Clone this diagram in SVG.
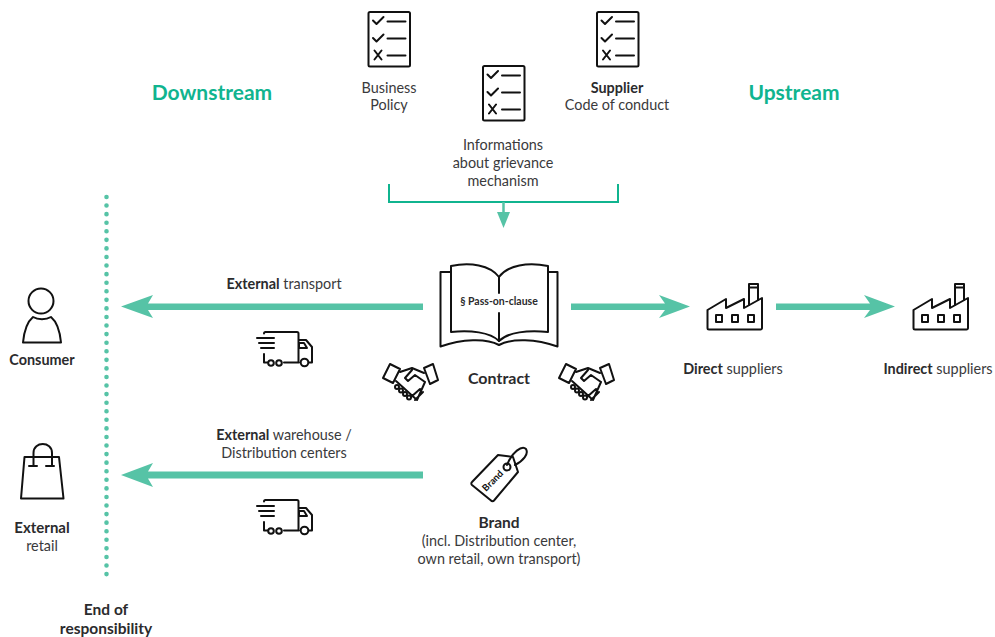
<svg xmlns="http://www.w3.org/2000/svg" width="995" height="637" viewBox="0 0 995 637">
<style>
text{font-family:"Lato","Liberation Sans",sans-serif;font-size:14.400px;fill:#3a3a3c;text-anchor:middle}
.b{font-weight:700;fill:#2b2b2d}
.l{font-size:15.500px}
.h{font-size:21px;font-weight:700;fill:#10b48f}
.i{fill:none;stroke:#111;stroke-width:2;stroke-linecap:round;stroke-linejoin:round}
.a{fill:#56c3a6}
</style>
<defs>
<g id="list" class="i">
<rect x="0" y="0" width="41.500" height="54.500" rx="1.500"/>
<path d="M4.500 8.500l3.500 3.500 7-7M4.500 26l3.500 3.500 7-7M6 38.500l7 9M13 38.500l-7 9M19 9.500h18M19 26.500h18M19 43.500h18"/>
</g>
<g id="truck" class="i">
<path d="M6 -1.500a1.500 1.500 0 0 1 1.500-1.500H39a1.500 1.500 0 0 1 1.500 1.500V27.500H26M10 27.500H6V19M40.500 5H48L54 12V27.500H51M41 27.500H40.500M41 8h5l3 5h-8ZM-1 3H16M1 8H16M3 13H16"/>
<circle cx="46.500" cy="27.500" r="3.800"/><circle cx="13" cy="28" r="2.800"/><circle cx="21" cy="28" r="2.800"/>
</g>
<g id="factory" class="i">
<path d="M0 25L18.500 14V23L36.500 14V23L54.500 13V43a1.500 1.500 0 0 1-1.500 1.500H1.500A1.500 1.500 0 0 1 0 43Z"/>
<path d="M41.500 20V-1H50.500V15M41.500 2.500H50.500"/>
<rect x="8.500" y="30" width="6" height="7"/><rect x="24.500" y="30" width="6" height="7"/><rect x="40.500" y="30" width="6" height="7"/>
</g>
<g id="hands" class="i">
<path d="M-1 14 6 0 16 5 9 19ZM40 4 49 0 54 16 46 20Z"/>
<path d="M16 8 28 4 40 9M12 17 33 36 41 18M41 18 31 11 24 17 21 14 28 6M27 33 36 25M31 36 39 28"/>
<circle cx="13" cy="23" r="2"/><circle cx="17" cy="26.500" r="2"/><circle cx="21" cy="30" r="2"/><circle cx="25" cy="33.500" r="2"/>
</g>
</defs>

<g id="connectors">
<path d="M389 184V202H618V184" fill="none" stroke="#10b48f" stroke-width="2"/>
<path d="M503.500 202V213" fill="none" stroke="#56c3a6" stroke-width="2.500"/>
<polygon class="a" points="497,212 510,212 503.500,228"/>
<polygon class="a" points="423,303.500 148,303.500 153,295 121,306.500 153,318 148,310 423,310"/>
<polygon class="a" points="423,471.500 148,471.500 153,463 121,475 153,487 148,478.500 423,478.500"/>
<polygon class="a" points="571,303.500 665,303.500 659,295 690,306.500 659,318 665,310 571,310"/>
<polygon class="a" points="776,303.500 870,303.500 864,295 895,306.500 864,318 870,310 776,310"/>
<line id="boundary" x1="106.500" y1="197" x2="106.500" y2="580" stroke="#56c3a6" stroke-width="4.600" stroke-linecap="round" stroke-dasharray="0 8.570"/>
</g>

<text class="h" x="212" y="100">Downstream</text>
<text class="h" x="794" y="100">Upstream</text>

<g id="business-policy"><use href="#list" x="368.500" y="12"/><text x="389" y="92.500">Business</text><text x="389" y="109.500">Policy</text></g>
<g id="grievance"><use href="#list" x="483" y="66"/><text x="503" y="149.500">Informations</text><text x="503" y="167.500">about grievance</text><text x="503" y="185.500">mechanism</text></g>
<g id="supplier-code"><use href="#list" x="597" y="12"/><text class="b" x="617" y="92.500">Supplier</text><text x="617" y="109.500">Code of conduct</text></g>

<g id="contract">
<g class="i">
<path d="M451 266C470 262 490 265 499 277C508 265 528 262 548 266V332C528 330 508 332 499 341C490 332 470 330 451 332Z"/>
<path d="M499 277V293M499 313V341"/>
<path d="M451 272H440.500V346.500C462 339 486 338 499 345C512 338 536 339 557.500 346.500V272H548"/>
</g>
<text class="b" x="499" y="305" style="font-size:10.500px">§ Pass-on-clause</text>
<use href="#hands" x="384" y="364"/>
<use href="#hands" x="560" y="364"/>
<text class="b" x="499" y="384" style="font-size:16px">Contract</text>
</g>

<g id="external-transport"><text x="284" y="288.500"><tspan class="b">External</tspan> transport</text><use href="#truck" x="258" y="335"/></g>
<g id="external-warehouse"><text x="284" y="439.500"><tspan class="b">External</tspan> warehouse /</text><text x="284" y="457.500">Distribution centers</text><use href="#truck" x="258" y="503"/></g>

<g id="consumer">
<g class="i"><circle cx="41" cy="301" r="12.500"/><path d="M33 317C27 322 24 332 23 342.500H61C60 332 57 322 51 317C46 320 38 320 33 317Z"/></g>
<text class="b" x="42" y="365">Consumer</text>
</g>
<g id="external-retail">
<g class="i"><path d="M24.500 457H59L63.500 498.500H21Z"/><path d="M33.500 466V453C33.500 441 52 441 52 453V466M29 466H37M46 466H54"/></g>
<text class="b" x="42" y="532.500" style="font-size:15px">External</text><text x="42" y="550.500">retail</text>
</g>
<g id="end"><text class="b l" x="106" y="614.500">End of</text><text class="b l" x="106" y="634">responsibility</text></g>

<g id="direct-suppliers"><use href="#factory" x="707.500" y="285"/><text x="733" y="373.500"><tspan class="b">Direct</tspan> suppliers</text></g>
<g id="indirect-suppliers"><use href="#factory" x="913.500" y="285"/><text x="938" y="373.500"><tspan class="b">Indirect</tspan> suppliers</text></g>

<g id="brand">
<g class="i">
<path d="M472 482 498 455 513 457 518 472 494 500.500a2 2 0 0 1-3 0L472 485a2 2 0 0 1 0-3Z"/>
<circle cx="507" cy="467" r="3.500"/>
<path d="M507 465C512 452 522 445 526 449C529 454 523 461 515 465"/>
</g>
<text class="b" x="0" y="0" transform="translate(495 483) rotate(-45)" style="font-size:9.500px;fill:#111">Brand</text>
<text class="b l" x="499" y="527.500">Brand</text>
<text x="499" y="545.500">(incl. Distribution center,</text>
<text x="499" y="563.500">own retail, own transport)</text>
</g>
</svg>
